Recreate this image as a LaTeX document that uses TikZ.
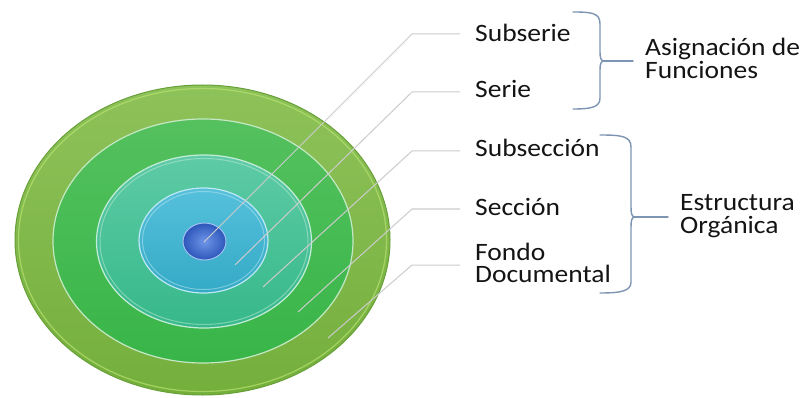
\documentclass[tikz,border=0pt]{standalone}
\usepackage{fontspec}
\setmainfont{Carlito}[FakeStretch=1.1]
\definecolor{outTop}{RGB}{142,194,90}
\definecolor{outBot}{RGB}{116,175,60}
\definecolor{outEdge}{RGB}{104,160,56}
\definecolor{outHi}{RGB}{184,226,112}
\definecolor{grTop}{RGB}{84,193,94}
\definecolor{grBot}{RGB}{56,181,72}
\definecolor{grRim}{RGB}{196,232,196}
\definecolor{tlTop}{RGB}{94,203,166}
\definecolor{tlBot}{RGB}{54,184,138}
\definecolor{tlRim}{RGB}{196,236,218}
\definecolor{cyTop}{RGB}{86,192,220}
\definecolor{cyBot}{RGB}{52,170,198}
\definecolor{cyRim}{RGB}{190,232,242}
\definecolor{dotIn}{RGB}{110,150,232}
\definecolor{dotOut}{RGB}{46,86,186}
\definecolor{dotRim}{RGB}{160,192,240}
\definecolor{leadGray}{RGB}{204,204,204}
\definecolor{braceBlue}{RGB}{125,148,178}
\definecolor{txt}{RGB}{20,20,20}
\tikzset{
  leader/.style={draw=leadGray, line width=1pt},
  bracepath/.style={draw=braceBlue, line width=1.4pt, line join=round, line cap=round},
  lbl/.style={anchor=base west, inner xsep=15pt, inner ysep=0pt,
    font=\fontsize{25}{22.5}\selectfont, text=txt},
  grp/.style={anchor=base west, inner xsep=12pt, inner ysep=0pt,
    font=\fontsize{25}{22.5}\selectfont, text=txt}
}
\begin{document}
\begin{tikzpicture}[x=1pt,y=-1pt]
\useasboundingbox (0,0) rectangle (800,398);
\fill[white] (0,0) rectangle (800,398);
% rings
\shade[top color=outTop, bottom color=outBot] (202.5,240) ellipse [x radius=187.5, y radius=155];
\draw[outEdge, line width=1pt] (202.5,240) ellipse [x radius=187.5, y radius=155];
\draw[outHi, line width=1.2pt, opacity=0.7] (202.5,240) ellipse [x radius=184, y radius=151.5];
\shade[top color=grTop, bottom color=grBot] (203,241) ellipse [x radius=150, y radius=122];
\draw[grRim, line width=1.2pt] (203,241) ellipse [x radius=150, y radius=122];
\shade[top color=tlTop, bottom color=tlBot] (204,241.5) ellipse [x radius=107.5, y radius=86.5];
\draw[tlRim, line width=1.2pt] (204,241.5) ellipse [x radius=107.5, y radius=86.5];
\draw[tlRim, line width=1pt, opacity=0.5] (204,241.5) ellipse [x radius=104, y radius=83];
\shade[top color=cyTop, bottom color=cyBot] (203.5,240.5) ellipse [x radius=64.5, y radius=52.5];
\draw[cyRim, line width=1.2pt] (203.5,240.5) ellipse [x radius=64.5, y radius=52.5];
\draw[cyRim, line width=1pt, opacity=0.5] (203.5,240.5) ellipse [x radius=61, y radius=49];
\shade[inner color=dotIn, outer color=dotOut] (204.5,241.5) ellipse [x radius=21.5, y radius=18.5];
\draw[dotRim, line width=1pt] (204.5,241.5) ellipse [x radius=21.5, y radius=18.5];
% labels
\node[lbl] (t1) at (460,42) {Subserie};
\node[lbl] (t2) at (460,98) {Serie};
\node[lbl] (t3) at (460,157) {Subsección};
\node[lbl] (t4) at (460,215) {Sección};
\node[lbl] (t5) at (460,260) {\vtop{\hbox{Fondo}\hbox{Documental}}};
\node[grp] (g1) at (633,56) {\vtop{\hbox{Asignación de}\hbox{Funciones}}};
\node[grp] (g2) at (668,211) {\vtop{\hbox{Estructura}\hbox{Orgánica}}};
% leader lines
\coordinate (p1) at (204,242);
\coordinate (p2) at (235,265);
\coordinate (p3) at (263,287);
\coordinate (p4) at (298,312);
\coordinate (p5) at (328,338);
\coordinate (b1) at (412,34);
\coordinate (b2) at (412,92);
\coordinate (b3) at (412,151);
\coordinate (b4) at (412,209);
\coordinate (b5) at (412,265);
\draw[leader] (p1) -- (b1) -- (b1 -| t1.west);
\draw[leader] (p2) -- (b2) -- (b2 -| t2.west);
\draw[leader] (p3) -- (b3) -- (b3 -| t3.west);
\draw[leader] (p4) -- (b4) -- (b4 -| t4.west);
\draw[leader] (p5) -- (b5) -- (b5 -| t5.west);
% braces
\coordinate (c1) at (604,61);
\draw[bracepath] (573,12) .. controls (592,12) and (600,13) .. (600,24) -- (600,52)
  .. controls (600,58) and (601,61) .. (c1)
  .. controls (601,61) and (600,64) .. (600,70) -- (600,98)
  .. controls (600,107) and (592,109) .. (573,109);
\draw[bracepath] (c1) -- (c1 -| g1.west);
\coordinate (c2) at (635,217);
\draw[bracepath] (600,135) .. controls (621,135) and (631,136) .. (631,147) -- (631,207)
  .. controls (631,214) and (632,217) .. (c2)
  .. controls (632,217) and (631,220) .. (631,227) -- (631,282)
  .. controls (631,291) and (621,293) .. (600,293);
\draw[bracepath] (c2) -- (c2 -| g2.west);
\end{tikzpicture}
\end{document}
